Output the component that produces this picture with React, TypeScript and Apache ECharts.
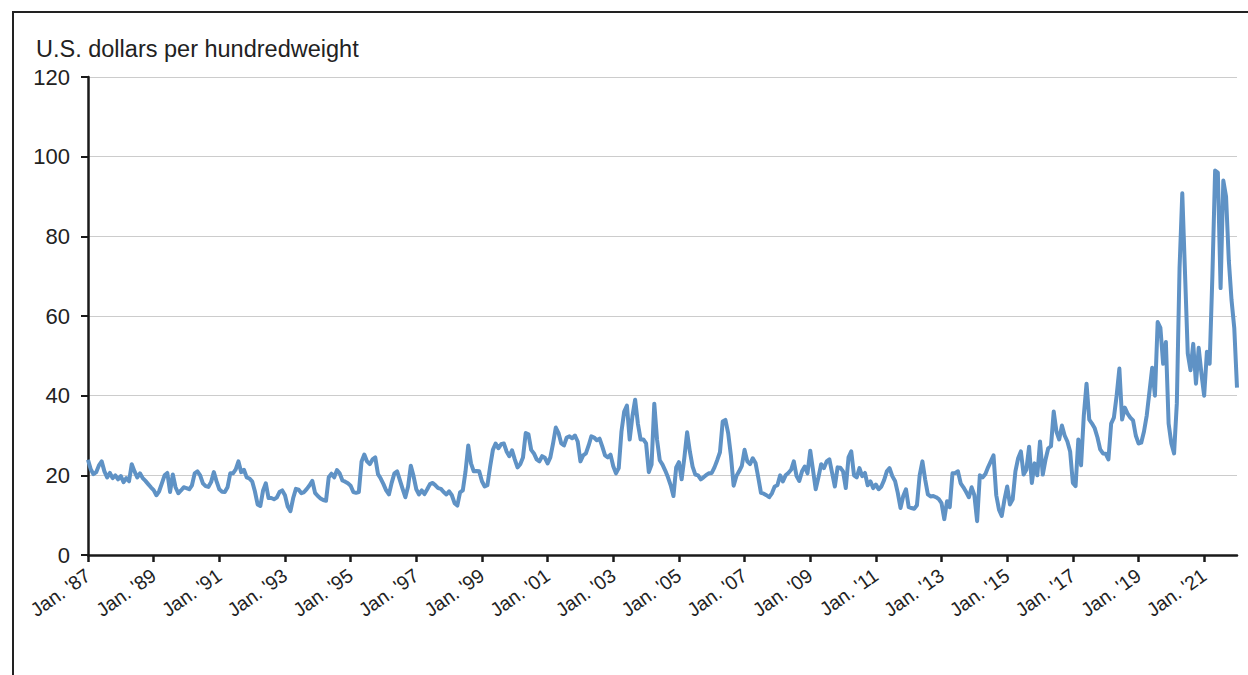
import React, { useEffect, useRef } from "react";
import * as echarts from "echarts";

// Monthly price, Jan 1987 – Jan 2022 (U.S. dollars per hundredweight)
const startYear = 1987;
const monthAbbr = ["Jan.", "Feb.", "Mar.", "Apr.", "May", "June", "July", "Aug.", "Sept.", "Oct.", "Nov.", "Dec."];

const prices1987_1996 = [
  23.9, 21.5, 20.3, 20.8, 22.5, 23.5, 21, 19.5, 20.6, 19.3, 20, 19,
  19.8, 18.3, 19.3, 18.5, 22.8, 21, 19.5, 20.5, 19.3, 18.6, 17.8, 17,
  16.3, 15, 16, 18, 20, 20.6, 15.8, 20.2, 17, 15.5, 16.2, 17,
  16.8, 16.5, 17.5, 20.5, 21, 20, 18, 17.3, 17.1, 18.3, 20.8, 18.5,
  16.5, 15.9, 15.8, 17, 20.5, 20.5, 21.5, 23.5, 20.8, 21.4, 19.5, 19.2,
  18.5, 16, 12.7, 12.3, 16.2, 18, 14.3, 14.3, 14, 14.4, 15.8, 16.2,
  15, 12.2, 11, 14.3, 16.6, 16.4, 15.5, 15.8, 16.6, 17.5, 18.6, 15.6,
  14.8, 14.2, 13.8, 13.6, 19.5, 20.4, 19.5, 21.3, 20.5, 18.7, 18.4, 18,
  17.4, 15.8, 15.6, 15.8, 23.5, 25.2, 23.5, 22.8, 24, 24.5, 20.3, 19.2,
  17.8, 16.2, 15.2, 18.1, 20.5, 21, 18.8, 16.6, 14.5, 17.2, 22.4, 19.8,
];
const prices1997_2006 = [
  16.5, 15.2, 16.2, 15.3, 16.5, 17.8, 18.1, 17.5, 16.8, 16.6, 15.8, 15.2,
  16, 15, 13, 12.4, 15.7, 16.2, 21, 27.5, 23, 21, 21.1, 21,
  18.5, 17.2, 17.5, 22.2, 26.4, 28, 26.8, 27.8, 28, 26, 24.8, 26.3,
  24, 22, 22.8, 24.5, 30.6, 30.3, 26.4, 25.5, 24, 23.5, 24.8, 24.4,
  23, 24.5, 28, 32, 30.6, 28, 27.5, 29.5, 29.8, 29.3, 30, 28.5,
  23.5, 25, 25.5, 27.5, 29.8, 29.5, 28.8, 29.2, 27.2, 25, 24.5, 25.2,
  22.3, 20.5, 21.8, 31, 36, 37.5, 29, 34.8, 39, 33, 29, 29,
  28, 20.8, 22.7, 38, 29, 23.8, 22.7, 21.2, 19.5, 17.5, 14.8, 22,
  23.3, 19, 24.5, 30.8, 26, 22.2, 20.2, 20, 19, 19.5, 20.1, 20.5,
  20.6, 22, 23.8, 25.8, 33.5, 33.9, 30.6, 25, 17.4, 19.8, 21, 22.4,
];
const prices2007_2016 = [
  26.4, 23.5, 22.8, 24.3, 23.1, 19.5, 15.6, 15.4, 15, 14.5, 15.5, 17.2,
  17.5, 20, 18.5, 20, 20.6, 21.4, 23.5, 19.8, 18.6, 21, 22.2, 20.5,
  26.2, 21.4, 16.5, 19.5, 22.8, 21.8, 23.5, 24, 20.6, 17.2, 22, 21.9,
  21, 16.8, 24.5, 26, 20, 19.5, 21.8, 19.8, 20.6, 17.5, 18.5, 16.8,
  17.7, 16.5, 17.2, 18.8, 21, 21.8, 19.8, 18.6, 15.6, 11.8, 14.8, 16.5,
  12, 11.8, 11.6, 12.5, 20, 23.5, 19, 15.2, 14.7, 14.8, 14.5, 14,
  13, 9, 13.5, 12, 20.5, 20.6, 21, 18, 17, 15.8, 14.5, 17,
  15, 8.5, 20, 19.5, 20.3, 22, 23.5, 25, 15, 11.4, 9.8, 13.9,
  17.2, 12.7, 14, 21, 24.3, 26, 20.2, 21.4, 27.2, 18.1, 23, 20,
  28.5, 20.2, 23.9, 26.8, 27.3, 36, 31, 29, 32.5, 30, 28.5, 26,
];
const prices2017_2022 = [
  18.1, 17.3, 29, 22.5, 35, 43, 34, 33, 31.8, 29.5, 26.5, 25.5,
  25.4, 24, 33, 34.5, 40, 46.8, 34, 37, 35.5, 34.5, 33.8, 30,
  28, 28.2, 31, 35, 41, 47, 40, 58.5, 57, 48, 53.5, 33,
  28, 25.5, 38, 72, 90.8, 70.7, 50.6, 46.4, 53, 43, 52, 45.5,
  40, 51, 48, 70, 96.5, 96, 67, 94, 90, 74, 64, 57,
  42,
];
const prices = [...prices1987_1996, ...prices1997_2006, ...prices2007_2016, ...prices2017_2022];

const yTicks = [0, 20, 40, 60, 80, 100, 120];
const axisTitle = "U.S. dollars per hundredweight";

const months = prices.map((_, i) => {
  const y = (startYear + Math.floor(i / 12)) % 100;
  return `${monthAbbr[i % 12]} '${String(y).padStart(2, "0")}`;
});

const FONT = "'Liberation Sans', Arial, sans-serif";
const TEXT = "#222222";

export default function App() {
  const ref = useRef<HTMLDivElement>(null);
  useEffect(() => {
    document.body.style.margin = "0";
    if (!ref.current) return;
    const chart = echarts.init(ref.current, undefined, { renderer: "svg" });
    chart.setOption({
      animation: false,
      backgroundColor: "#ffffff",
      textStyle: { fontFamily: FONT },
      title: {
        text: axisTitle,
        left: 31,
        top: 32,
        textStyle: { fontFamily: FONT, fontSize: 23.5, fontWeight: "normal", color: TEXT },
      },
      graphic: [
        {
          type: "rect",
          shape: { x: 13, y: 12, width: 1300, height: 700 },
          style: { fill: "none", stroke: "#222222", lineWidth: 2 },
          silent: true,
        },
      ],
      grid: { left: 88, right: 11, top: 77, bottom: 120, containLabel: false },
      xAxis: {
        type: "category",
        data: months,
        boundaryGap: false,
        axisLine: { show: true, lineStyle: { color: "#1a1a1a", width: 2.5 } },
        axisTick: {
          show: true,
          length: 7,
          interval: (i: number) => i % 24 === 0,
          lineStyle: { color: "#1a1a1a", width: 2.5 },
        },
        axisLabel: {
          interval: (i: number) => i % 24 === 0,
          rotate: 35,
          margin: 18,
          fontFamily: FONT,
          fontSize: 19.5,
          color: TEXT,
        },
        splitLine: { show: false },
      },
      yAxis: {
        type: "value",
        min: yTicks[0],
        max: yTicks[yTicks.length - 1],
        interval: 20,
        axisLine: { show: true, lineStyle: { color: "#1a1a1a", width: 2.5 } },
        axisTick: { show: true, length: 7, lineStyle: { color: "#1a1a1a", width: 2 } },
        axisLabel: { fontFamily: FONT, fontSize: 22, color: TEXT, margin: 18 },
        splitLine: { show: true, lineStyle: { color: "#cccccc", width: 1 } },
      },
      series: [
        {
          type: "line",
          data: prices,
          showSymbol: false,
          symbol: "none",
          lineStyle: { color: "#5f92c5", width: 4, join: "round" },
          itemStyle: { color: "#5f92c5" },
        },
      ],
    });
    return () => chart.dispose();
  }, []);
  return <div ref={ref} style={{ width: 1248, height: 675 }} />;
}
